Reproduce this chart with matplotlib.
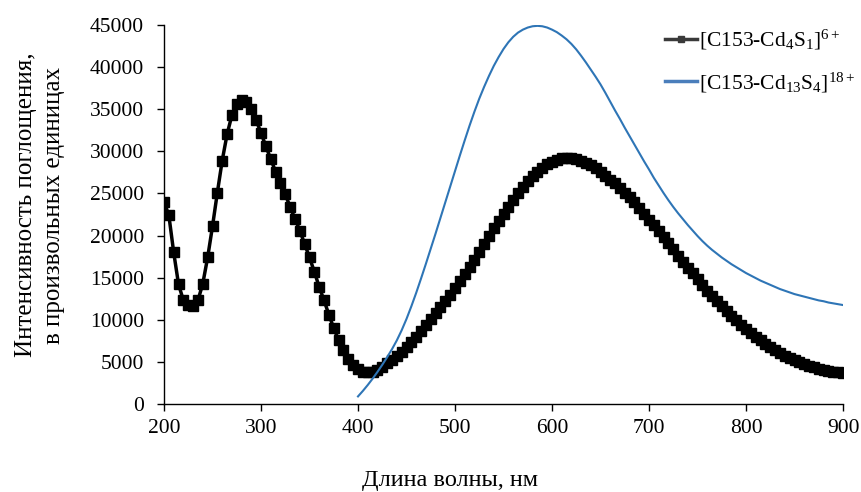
import matplotlib
matplotlib.use("Agg")
import matplotlib.pyplot as plt

plt.rcParams['font.family'] = ['Liberation Serif', 'DejaVu Serif']
plt.rcParams['mathtext.fontset'] = 'custom'
plt.rcParams['mathtext.rm'] = 'Liberation Serif'
plt.rcParams['mathtext.it'] = 'Liberation Serif:italic'

# Series 1: [C153-Cd4S1]6+  (every 5 nm, 200..900)
wl1 = list(range(200, 905, 5))
int1 = [
    24000, 22400, 18000, 14200, 12300, 11700, 11600, 12300, 14300, 17400,   # 200-245
    21100, 25100, 28900, 32000, 34300, 35600, 36100, 35900, 35000, 33700,   # 250-295
    32200, 30600, 29100, 27600, 26200, 24900, 23400, 22000, 20600, 19000,   # 300-345
    17400, 15700, 13900, 12300, 10600, 9000, 7600, 6400, 5400, 4600,        # 350-395
    4100, 3850, 3750, 3800, 4000, 4400, 4850, 5250, 5700, 6200,             # 400-445
    6750, 7350, 8000, 8650, 9350, 10050, 10750, 11500, 12250, 13000,        # 450-495
    13800, 14600, 15400, 16250, 17150, 18050, 19000, 19950, 20850, 21700,   # 500-545
    22550, 23400, 24250, 25050, 25800, 26450, 27050, 27600, 28050, 28450,   # 550-595
    28750, 29000, 29150, 29200, 29200, 29100, 28900, 28650, 28350, 28000,   # 600-645
    27550, 27100, 26650, 26200, 25650, 25100, 24550, 24000, 23300, 22600,   # 650-695
    21900, 21200, 20500, 19800, 19100, 18350, 17600, 16900, 16200, 15500,   # 700-745
    14800, 14100, 13450, 12850, 12250, 11650, 11050, 10500, 9950, 9400,     # 750-795
    8900, 8450, 8000, 7550, 7150, 6750, 6400, 6050, 5750, 5450,             # 800-845
    5200, 4950, 4750, 4550, 4350, 4200, 4050, 3950, 3850, 3780,             # 850-895
    3700,                                                                   # 900
]

# Series 2: [C153-Cd13S4]18+  (every 5 nm, 400..900)
wl2 = list(range(400, 905, 5))
int2 = [
    900, 1550, 2250, 3000, 3800, 4650, 5550, 6500, 7550, 8750,              # 400-445
    10100, 11600, 13200, 14900, 16650, 18450, 20250, 22100, 23950, 25800,   # 450-495
    27650, 29500, 31300, 33050, 34700, 36250, 37650, 38950, 40150, 41200,   # 500-545
    42150, 42950, 43600, 44100, 44450, 44700, 44850, 44900, 44850, 44700,   # 550-595
    44450, 44150, 43750, 43300, 42750, 42100, 41350, 40550, 39700, 38850,   # 600-645
    37950, 36950, 35900, 34850, 33850, 32800, 31800, 30800, 29800, 28800,   # 650-695
    27850, 26850, 25950, 25050, 24200, 23400, 22650, 21950, 21250, 20600,   # 700-745
    19950, 19350, 18800, 18300, 17850, 17400, 17000, 16600, 16250, 15900,   # 750-795
    15550, 15250, 14950, 14650, 14400, 14150, 13900, 13650, 13450, 13250,   # 800-845
    13050, 12900, 12750, 12600, 12450, 12300, 12200, 12050, 11950, 11850,   # 850-895
    11750,                                                                  # 900
]

labels = [r'[C153-Cd$_4$S$_1$]$^{6+}$', r'[C153-Cd$_{13}$S$_4$]$^{18+}$']
xticks = [200, 300, 400, 500, 600, 700, 800, 900]
yticks = list(range(0, 45001, 5000))

fig = plt.figure(figsize=(8.61, 4.92), dpi=100)
ax = fig.add_axes([164/861, 1-404/492, (843-164)/861, (404-25)/492])

ax.plot(wl1, int1, color='black', lw=2.5, marker='s', markersize=7.6, label=labels[0], zorder=2)
ax.plot(wl2, int2, color='#2E75B6', lw=1.5, label=labels[1], zorder=3)

ax.set_xlim(200, 900)
ax.set_ylim(0, 45000)
ax.set_xticks(xticks)
ax.set_yticks(yticks)
ax.set_xticklabels([str(v) for v in xticks])
ax.set_yticklabels([str(v) for v in yticks])
for s in ['top', 'right']:
    ax.spines[s].set_visible(False)
for s in ['left', 'bottom']:
    ax.spines[s].set_color('#000000')
    ax.spines[s].set_linewidth(1.0)
ax.tick_params(axis='both', direction='out', length=5, width=1.0, labelsize=15.5, colors='black')
ax.tick_params(axis='y', pad=9.5)
ax.tick_params(axis='x', pad=6)

leg = ax.legend(loc='upper left', bbox_to_anchor=(665/861, 1-28/492), bbox_transform=fig.transFigure,
                frameon=False, fontsize=15.5, handlelength=1.5, handletextpad=0.1,
                labelspacing=0.85, borderpad=0, borderaxespad=0)
h = leg.legend_handles
h[0].set_markersize(4)
h[0].set_linewidth(2.5)
h[0].set_color('#3a3a3a')
h[1].set_linewidth(2.5)
h[1].set_color('#4a7ebb')

fig.text(40/861, 1-205/492, 'Интенсивность поглощения,\nв произвольных единицах',
         rotation=90, ha='center', va='center', multialignment='center', fontsize=18, linespacing=1.3)
fig.text(362/861, 1-486/492, 'Длина волны, нм', ha='left', va='baseline', fontsize=17.5)

fig.savefig('out.png', dpi=100)
